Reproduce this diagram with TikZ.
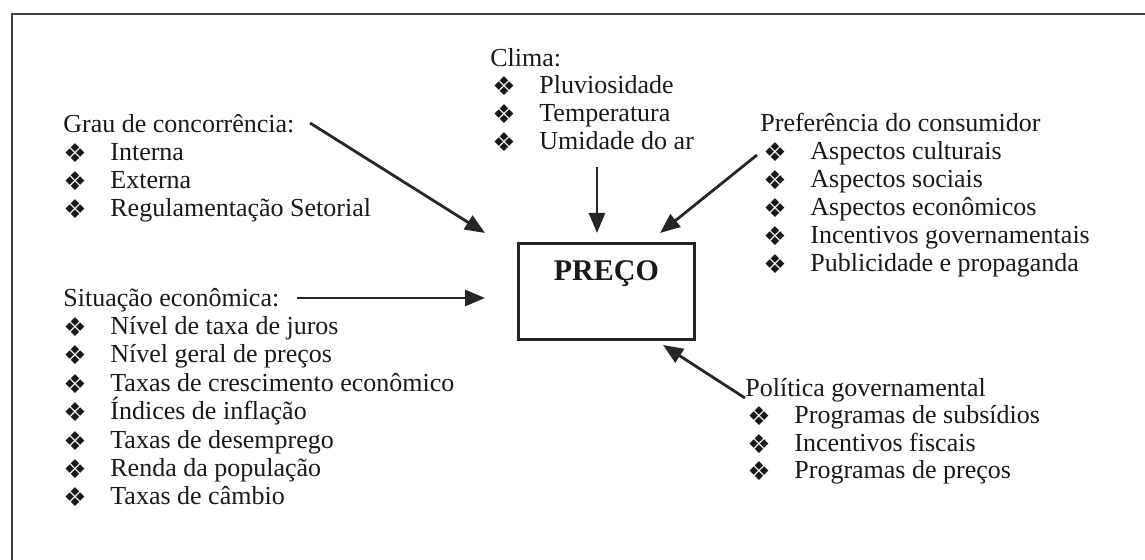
\documentclass[tikz,border=0pt]{standalone}
\usepackage{fontspec}
\setmainfont{Liberation Serif}
\newfontfamily\symfont{DejaVu Sans}
\usetikzlibrary{arrows.meta}

\newcommand{\bul}{\makebox[23.5pt][l]{\symfont\fontsize{13}{13}\selectfont\raisebox{-0.8pt}{❖}}}

\begin{document}
\begin{tikzpicture}[x=0.5pt, y=-0.5pt, font=\fontsize{13}{14}\selectfont,
  txt/.style={inner sep=0pt, anchor=base west, text=black!90},
  flow/.style={-{Triangle[length=10pt, width=8pt]}, line width=1.4pt, black!85}]
  \useasboundingbox (0,0) rectangle (1145,560);
  \draw[line width=1pt, black!75] (1145,14) -- (12,14) -- (12,560);
  % central box
  \node[draw, line width=1.4pt, black!85, text=black!90, anchor=north west,
    minimum width=88pt, minimum height=48pt, inner sep=0pt, text depth=21pt,
    font=\fontsize{15}{15}\selectfont\bfseries] (preco) at (517,242) {PREÇO};
  % grau de concorrencia
  \node[txt] (grau) at (63,133) {Grau de concorrência:};
  \node[txt] (grau1) at (63,161) {\bul Interna};
  \node[txt] (grau2) at (63,189) {\bul Externa};
  \node[txt] (grau3) at (63,217) {\bul Regulamentação Setorial};
  % clima
  \node[txt] (clima) at (490,67) {Clima:};
  \node[txt] (clima1) at (492,94) {\bul Pluviosidade};
  \node[txt] (clima2) at (492,122) {\bul Temperatura};
  \node[txt] (clima3) at (492,150) {\bul Umidade do ar};
  % preferencia
  \node[txt] (pref) at (760,132) {Preferência do consumidor};
  \node[txt] (pref1) at (763,160) {\bul Aspectos culturais};
  \node[txt] (pref2) at (763,188) {\bul Aspectos sociais};
  \node[txt] (pref3) at (763,216) {\bul Aspectos econômicos};
  \node[txt] (pref4) at (763,244) {\bul Incentivos governamentais};
  \node[txt] (pref5) at (763,272) {\bul Publicidade e propaganda};
  % situacao economica
  \node[txt] (sit) at (63,307) {Situação econômica:};
  \node[txt] (sit1) at (63,335) {\bul Nível de taxa de juros};
  \node[txt] (sit2) at (63,363) {\bul Nível geral de preços};
  \node[txt] (sit3) at (63,392) {\bul Taxas de crescimento econômico};
  \node[txt] (sit4) at (63,420) {\bul Índices de inflação};
  \node[txt] (sit5) at (63,449) {\bul Taxas de desemprego};
  \node[txt] (sit6) at (63,477) {\bul Renda da população};
  \node[txt] (sit7) at (63,505) {\bul Taxas de câmbio};
  % politica governamental
  \node[txt] (pol) at (745,397) {Política governamental};
  \node[txt] (pol1) at (747,424) {\bul Programas de subsídios};
  \node[txt] (pol2) at (747,452) {\bul Incentivos fiscais};
  \node[txt] (pol3) at (747,479) {\bul Programas de preços};
  % arrows
  \coordinate (grauS) at (310,123);
  \coordinate (grauT) at (485,233);
  \coordinate (climaS) at (597,167);
  \coordinate (climaT) at (597,233);
  \coordinate (prefS) at (757,155);
  \coordinate (prefT) at (660,233);
  \coordinate (sitS) at (297,298);
  \coordinate (sitT) at (485,298);
  \coordinate (polS) at (745,398);
  \coordinate (polT) at (663,345);
  \draw[flow] (grauS) -- (grauT);
  \draw[flow] (climaS) -- (climaT);
  \draw[flow] (prefS) -- (prefT);
  \draw[flow] (sitS) -- (sitT);
  \draw[flow] (polS) -- (polT);
\end{tikzpicture}
\end{document}
